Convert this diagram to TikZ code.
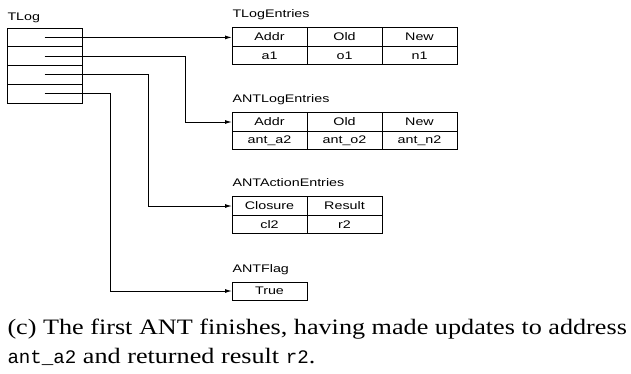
\documentclass[tikz,border=0pt]{standalone}
\usepackage{fontspec}
\setmainfont{Liberation Serif}[FakeStretch=1.19]
\setsansfont{Liberation Sans}[FakeStretch=1.3]
\setmonofont{Liberation Mono}[Scale=0.87]
\usetikzlibrary{arrows.meta, positioning}
\tikzstyle{cell}=[draw,rectangle,outer sep=0pt,inner sep=0pt,minimum width=75pt,minimum height=18.5pt]
\tikzstyle{slot}=[draw,rectangle,outer sep=0pt,inner sep=0pt,minimum width=75pt,minimum height=18.75pt]
\tikzstyle{title}=[anchor=base west,inner sep=0pt]
\tikzstyle{every node}=[font=\sffamily\fontsize{11}{13}\selectfont]
\newcommand{\code}[1]{\mbox{\texttt{#1}}}

\begin{document}
\begin{tikzpicture}[x=1pt,y=-1pt,>={Latex[length=7pt,width=4pt]},line width=1pt]
  \useasboundingbox (0,0) rectangle (631,373);
  % TLog
  \node[slot] (tlog1) at (44.5,37.4) {};
  \node[slot, below=0pt of tlog1] (tlog2) {};
  \node[slot, below=0pt of tlog2] (tlog3) {};
  \node[slot, below=0pt of tlog3] (tlog4) {};
  \node[title] at ([yshift=8pt]tlog1.north west) {TLog};
  % TLogEntries
  \node[cell] (addr1) at (269.5,37) {Addr};
  \node[cell, right=0pt of addr1] (old1) {Old};
  \node[cell, right=0pt of old1] (new1) {New};
  \node[cell, below=0pt of addr1] (a1) {a1};
  \node[cell, below=0pt of old1] (o1) {o1};
  \node[cell, below=0pt of new1] (n1) {n1};
  \node[title] at ([yshift=10pt]addr1.north west) {TLogEntries};
  % ANTLogEntries
  \node[cell] (addr2) at (269.5,122) {Addr};
  \node[cell, right=0pt of addr2] (old2) {Old};
  \node[cell, right=0pt of old2] (new2) {New};
  \node[cell, below=0pt of addr2] (a2) {ant\_a2};
  \node[cell, below=0pt of old2] (o2) {ant\_o2};
  \node[cell, below=0pt of new2] (n2) {ant\_n2};
  \node[title] at ([yshift=10pt]addr2.north west) {ANTLogEntries};
  % ANTActionEntries
  \node[cell] (closure) at (269.5,206) {Closure};
  \node[cell, right=0pt of closure] (result) {Result};
  \node[cell, below=0pt of closure] (cl2) {cl2};
  \node[cell, below=0pt of result] (r2) {r2};
  \node[title] at ([yshift=10pt]closure.north west) {ANTActionEntries};
  % ANTFlag
  \node[cell, minimum height=18pt] (flag) at (269.5,291) {True};
  \node[title] at ([yshift=10pt]flag.north west) {ANTFlag};
  % pointers
  \draw[->] (tlog1.center) -- (tlog1.center -| addr1.west);
  \draw[->] (tlog2.center) -| ([xshift=-47pt]addr2.west) -- (addr2.west);
  \draw[->] (tlog3.center) -| ([xshift=-84pt]closure.west) -- (closure.west);
  \draw[->] (tlog4.center) -| ([xshift=-122pt]flag.west) -- (flag.west);
  % caption (base = last line)
  \node[anchor=base west, align=left, inner sep=0pt, font=\rmfamily\fontsize{22}{29}\selectfont] (caption) at (7,363)
    {(c) The first ANT finishes, having made updates to address\\
     \code{ant\_a2} and returned result \code{r2}.};
\end{tikzpicture}
\end{document}
